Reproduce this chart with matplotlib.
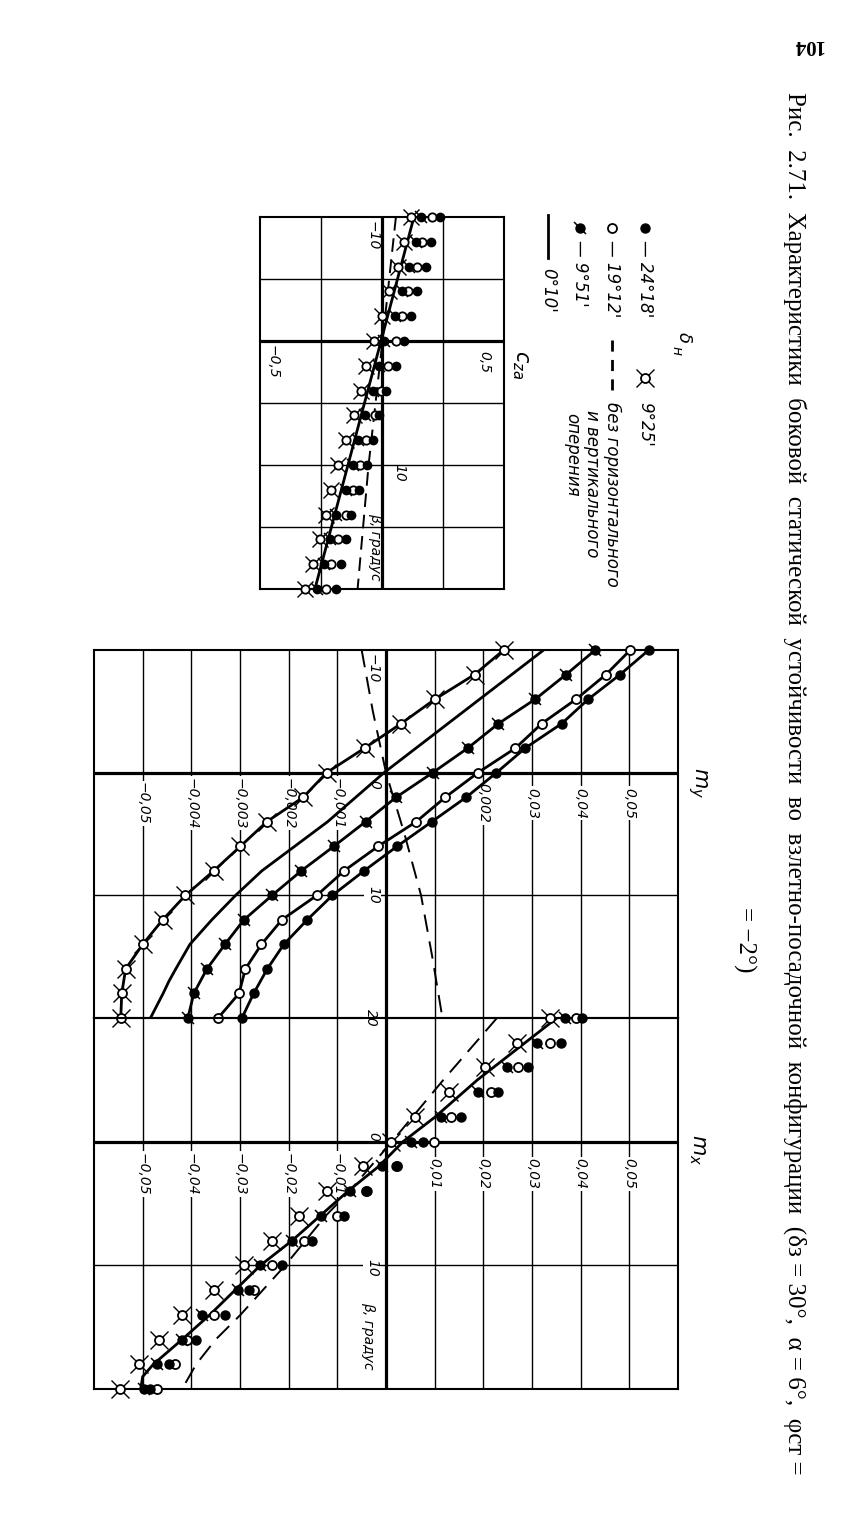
import matplotlib
matplotlib.use("Agg")
import matplotlib.pyplot as plt
from matplotlib.markers import MarkerStyle
from matplotlib.transforms import Affine2D

W, H = 844, 1532

# beta, degrees (measurement points)
beta_pts = [-10, -8, -6, -4, -2, 0, 2, 4, 6, 8, 10, 12, 14, 16, 18, 20]

# --- c_za (top chart) ---
cza_2418 = [0.236, 0.199, 0.179, 0.145, 0.118, 0.091, 0.057, 0.016,
            -0.011, -0.035, -0.062, -0.095, -0.126, -0.146, -0.170, -0.190]
cza_1912 = [0.203, 0.162, 0.145, 0.108, 0.084, 0.057, 0.023, -0.004,
            -0.027, -0.065, -0.092, -0.119, -0.146, -0.180, -0.207, -0.228]
cza_951 = [0.158, 0.138, 0.111, 0.081, 0.054, 0.010, -0.011, -0.038,
           -0.068, -0.099, -0.119, -0.146, -0.187, -0.214, -0.238, -0.268]
cza_925 = [0.118, 0.091, 0.064, 0.030, 0.000, -0.031, -0.065, -0.085,
           -0.116, -0.146, -0.180, -0.207, -0.228, -0.255, -0.282, -0.316]
beta_cza_010 = [-10, 0, 20]
cza_010 = [0.131, -0.004, -0.275]
beta_cza_dash = [-10, 0, 10, 20]
cza_dash = [0.057, 0.002, -0.055, -0.100]

# --- m_y ---
my_2418 = [0.0054, 0.00481, 0.00416, 0.00361, 0.00286, 0.00227, 0.00165, 0.00094,
           0.00023, -0.00045, -0.0011, -0.00162, -0.0021, -0.00244, -0.00272, -0.00296]
my_1912 = [0.00502, 0.00452, 0.00391, 0.0032, 0.00266, 0.00189, 0.00122, 0.00062,
           -0.00016, -0.00086, -0.00142, -0.00214, -0.00256, -0.00289, -0.00302, -0.00345]
my_951 = [0.0043, 0.0037, 0.00307, 0.00231, 0.00168, 0.00096, 0.00021, -0.00042,
          -0.00107, -0.00174, -0.00234, -0.00292, -0.00331, -0.00368, -0.00395, -0.00407]
my_925 = [0.00242, 0.00182, 0.00101, 0.00031, -0.00044, -0.00122, -0.0017, -0.00245,
          -0.00299, -0.00354, -0.00412, -0.00459, -0.005, -0.00535, -0.00543, -0.00545]
beta_my_010 = [-10, -5, 0, 4, 8, 10, 12, 14, 16, 17, 18, 20]
my_010 = [0.00324, 0.0016, -0.00004, -0.0012, -0.00255, -0.00309, -0.00358,
          -0.00403, -0.00432, -0.00446, -0.00458, -0.00484]
beta_my_dash = [-10, -5, 0, 5, 10, 15, 20]
my_dash = [-0.0005, -0.00027, 0.0, 0.00038, 0.00072, 0.00095, 0.00116]

# --- m_x ---
mx_2418 = [0.0402, 0.036, 0.0292, 0.0231, 0.0155, 0.0077, 0.0021, -0.004,
           -0.0087, -0.0152, -0.0214, -0.0282, -0.0331, -0.039, -0.0446, -0.0484]
mx_1912 = [0.039, 0.0337, 0.0271, 0.0216, 0.0134, 0.0098, 0.0023, -0.0042,
           -0.0101, -0.0169, -0.0234, -0.0272, -0.0354, -0.0409, -0.0433, -0.047]
mx_951 = [0.0367, 0.031, 0.0248, 0.019, 0.0114, 0.0052, -0.0008, -0.0075,
          -0.0133, -0.0194, -0.0258, -0.0304, -0.0379, -0.0419, -0.047, -0.0498]
mx_925 = [0.0337, 0.0269, 0.0203, 0.0129, 0.006, 0.0011, -0.0047, -0.0121,
          -0.0179, -0.0234, -0.0292, -0.0354, -0.0419, -0.0467, -0.0508, -0.0546]
beta_mx_010 = [-10, -5, -2, 0, 2, 4, 8, 10, 12, 14, 16, 18, 19, 20]
mx_010 = [0.0351, 0.0188, 0.0101, 0.0035, -0.0015, -0.0078, -0.0193, -0.0258,
          -0.031, -0.0362, -0.0419, -0.0478, -0.05, -0.0504]
beta_mx_dash = [-10, -5, 0, 4, 6, 10, 14, 16, 18, 20]
mx_dash = [0.0228, 0.0118, 0.0012, -0.0075, -0.0124, -0.0207, -0.0299, -0.035, -0.039, -0.0419]

# grid / tick labels
cza_grid = [-0.25, 0.25]
beta_grid_c = [-5, 5, 10, 15]
my_grid = [-0.005, -0.004, -0.003, -0.002, -0.001, 0.001, 0.002, 0.003, 0.004, 0.005]
mx_grid = [-0.05, -0.04, -0.03, -0.02, -0.01, 0.01, 0.02, 0.03, 0.04, 0.05]
my_tick_vals = [-0.005, -0.004, -0.003, -0.002, -0.001, 0.002, 0.003, 0.004, 0.005]
my_tick_text = ["−0,05", "−0,004", "−0,003", "−0,002", "−0,001", "0,002", "0,03", "0,04", "0,05"]
mx_tick_vals = mx_grid
mx_tick_text = ["−0,05", "−0,04", "−0,03", "−0,02", "−0,01", "0,01", "0,02", "0,03", "0,04", "0,05"]

LBL = dict(family=["Liberation Sans Narrow", "DejaVu Sans"], style="italic")
SERIF = ["Liberation Serif", "DejaVu Serif"]
WHITE = dict(facecolor="white", edgecolor="none", pad=1.0)

tick_mark = MarkerStyle("|", transform=Affine2D().rotate_deg(45))

# drawing order: grid < label boxes < thick axes < curves < markers
Z_GRID, Z_TEXT, Z_AXIS, Z_CURVE = 1, 2, 2.5, 3


def px_rect(x0, y0, x1, y1):
    return [x0 / W, 1 - y1 / H, (x1 - x0) / W, (y1 - y0) / H]


def series(ax, x, y, kind, connect=False, ms=6.5):
    if connect:
        ax.plot(x, y, "-", color="k", lw=2.0, zorder=Z_CURVE)
    if kind == "filled":
        ax.plot(x, y, ls="none", marker="o", ms=ms, mfc="k", mec="k", zorder=4, clip_on=False)
    elif kind == "open":
        ax.plot(x, y, ls="none", marker="o", ms=ms, mfc="white", mec="k", mew=1.3, zorder=4, clip_on=False)
    elif kind == "tick":
        ax.plot(x, y, ls="none", marker=tick_mark, ms=ms * 1.9, mec="k", mew=1.1, zorder=4, clip_on=False)
        ax.plot(x, y, ls="none", marker="o", ms=ms, mfc="k", mec="k", zorder=5, clip_on=False)
    elif kind == "cross":
        ax.plot(x, y, ls="none", marker="x", ms=ms * 1.9, mec="k", mew=1.0, zorder=4, clip_on=False)
        ax.plot(x, y, ls="none", marker="o", ms=ms, mfc="white", mec="k", mew=1.3, zorder=5, clip_on=False)


def frame(ax):
    ax.set_xticks([])
    ax.set_yticks([])
    ax.patch.set_facecolor("none")
    for s in ax.spines.values():
        s.set_linewidth(1.5)


def axes_lines(ax, xs, ys):
    for v in xs:
        ax.axvline(v, color="k", lw=1.0, zorder=Z_GRID)
    for v in ys:
        ax.axhline(v, color="k", lw=1.0, zorder=Z_GRID)
    ax.axvline(0, color="k", lw=2.3, zorder=Z_AXIS)
    ax.axhline(0, color="k", lw=2.3, zorder=Z_AXIS)


def rtext(ax, x, y, s, size=10, box=False, **kw):
    ax.text(x, y, s, rotation=270, rotation_mode="anchor", ha="center", va="center",
            fontsize=size, bbox=WHITE if box else None, zorder=Z_TEXT, clip_on=False, **LBL, **kw)


fig = plt.figure(figsize=(W / 100, H / 100), dpi=100)

# ---------------- top chart: c_za ----------------
ax_c = fig.add_axes(px_rect(260, 217, 504, 589))
ax_c.set_xlim(-0.5, 0.5)
ax_c.set_ylim(20, -10)
frame(ax_c)
axes_lines(ax_c, cza_grid, beta_grid_c)
ax_c.plot(cza_010, beta_cza_010, "-", color="k", lw=2.0, zorder=Z_CURVE)
ax_c.plot(cza_dash, beta_cza_dash, color="k", lw=1.4, dashes=(7, 4), zorder=Z_CURVE)
series(ax_c, cza_925, beta_pts, "cross", ms=6)
series(ax_c, cza_951, beta_pts, "tick", ms=6)
series(ax_c, cza_1912, beta_pts, "open", ms=6)
series(ax_c, cza_2418, beta_pts, "filled", ms=6)
rtext(ax_c, -0.04, -8.5, "−10")
rtext(ax_c, 0.07, 10.6, "10")
rtext(ax_c, 0.42, 1.7, "0,5")
rtext(ax_c, -0.45, 1.7, "−0,5")
rtext(ax_c, -0.03, 16.6, "β, градус")

# ---------------- m_y ----------------
ax_my = fig.add_axes(px_rect(94, 650, 678, 1018))
ax_my.set_xlim(-0.006, 0.006)
ax_my.set_ylim(20, -10)
frame(ax_my)
axes_lines(ax_my, my_grid, [10])
ax_my.plot(my_010, beta_my_010, "-", color="k", lw=2.0, zorder=Z_CURVE)
ax_my.plot(my_dash, beta_my_dash, color="k", lw=1.4, dashes=(9, 5), zorder=Z_CURVE)
series(ax_my, my_925, beta_pts, "cross", connect=True)
series(ax_my, my_951, beta_pts, "tick", connect=True)
series(ax_my, my_1912, beta_pts, "open", connect=True)
series(ax_my, my_2418, beta_pts, "filled", connect=True)
for v, t in zip(my_tick_vals, my_tick_text):
    rtext(ax_my, v, 2.5, t, box=True)
rtext(ax_my, -0.00027, -8.5, "−10")
rtext(ax_my, -0.00023, 1.0, "0")
rtext(ax_my, -0.00027, 10, "10", box=True)

# ---------------- m_x ----------------
ax_mx = fig.add_axes(px_rect(94, 1018, 678, 1389))
ax_mx.set_xlim(-0.06, 0.06)
ax_mx.set_ylim(20, -10)
frame(ax_mx)
axes_lines(ax_mx, mx_grid, [10])
ax_mx.plot(mx_010, beta_mx_010, "-", color="k", lw=2.0, zorder=Z_CURVE)
ax_mx.plot(mx_dash, beta_mx_dash, color="k", lw=1.4, dashes=(9, 5), zorder=Z_CURVE)
series(ax_mx, mx_925, beta_pts, "cross")
series(ax_mx, mx_951, beta_pts, "tick")
series(ax_mx, mx_1912, beta_pts, "open")
series(ax_mx, mx_2418, beta_pts, "filled")
for v, t in zip(mx_tick_vals, mx_tick_text):
    rtext(ax_mx, v, 2.6, t, box=True)
rtext(ax_mx, -0.0027, -0.4, "0")
rtext(ax_mx, -0.0029, 10.2, "10", box=True)
rtext(ax_mx, -0.0037, 15.7, "β, градус")
# "20" of the m_y scale sits on the shared border line
rtext(ax_mx, -0.003, -10, "20", box=True)

# ---------------- legend, axis names, caption (page pixel coords) ----------------
ov = fig.add_axes([0, 0, 1, 1])
ov.set_xlim(0, W)
ov.set_ylim(H, 0)
ov.axis("off")


def ltext(x, y, s, size=12):
    ov.text(x, y, s, rotation=270, rotation_mode="anchor", ha="left", va="center",
            fontsize=size, **LBL)


series(ov, [645], [228], "filled")
ltext(645, 240, "— 24°18'")
series(ov, [612], [228], "open")
ltext(612, 240, "— 19°12'")
series(ov, [580], [228], "tick")
ltext(580, 240, "— 9°51'")
ov.plot([548, 548], [215, 258], color="k", lw=2.0)
ltext(548, 268, "0°10'")
series(ov, [645], [378], "cross")
ltext(645, 402, "9°25'")
ov.plot([612, 612], [340, 398], color="k", lw=2.0, dashes=(4, 3))
ltext(612, 402, "без горизонтального")
ltext(592, 410, "и вертикального")
ltext(572, 413, "оперения")
ov.text(684, 338, "δ", rotation=270, ha="center", va="center", fontsize=13, **LBL)
ov.text(676, 351, "н", rotation=270, ha="center", va="center", fontsize=10, **LBL)

ov.text(520, 365, "$c_{za}$", rotation=270, ha="center", va="center", fontsize=15)
ov.text(697, 783, "$m_y$", rotation=270, ha="center", va="center", fontsize=15)
ov.text(697, 1150, "$m_x$", rotation=270, ha="center", va="center", fontsize=15)

cap1 = ("Рис.  2.71.  Характеристики  боковой  статической  устойчивости  во  "
        "взлетно-посадочной  конфигурации  (δз = 30°,  α = 6°,  φст =")
ov.text(795, 92, cap1, rotation=270, rotation_mode="anchor", ha="left", va="center",
        fontsize=18, family=SERIF)
ov.text(745, 940, "= −2°)", rotation=270, rotation_mode="anchor", ha="center", va="center",
        fontsize=18, family=SERIF)
ov.text(808, 45, "104", rotation=180, ha="center", va="center", fontsize=15,
        fontweight="bold", family=SERIF)

fig.savefig("out.png", dpi=100)
